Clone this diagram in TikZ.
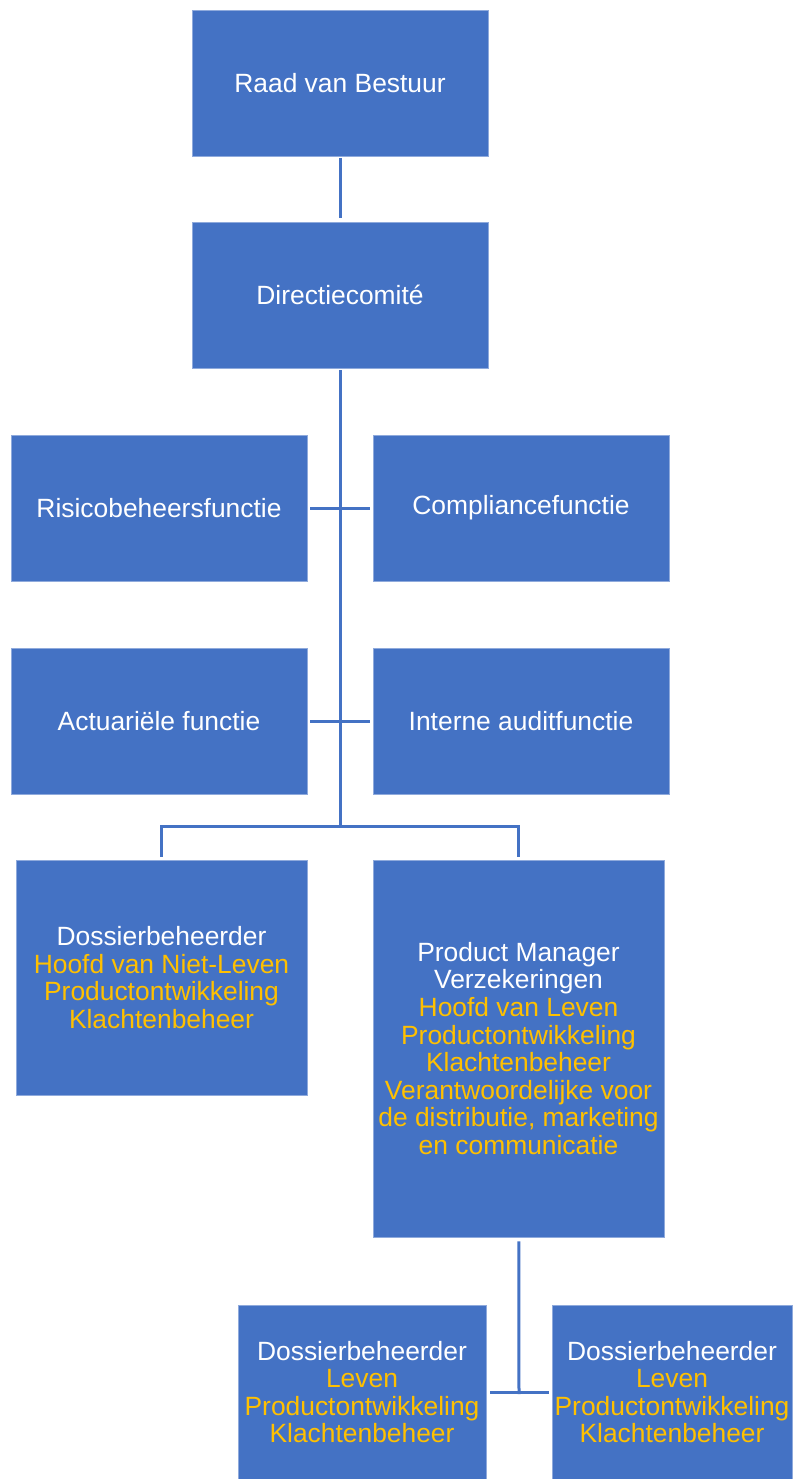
\documentclass[tikz,border=0pt]{standalone}
\usepackage{fontspec}
\setmainfont{Liberation Sans}
\usepackage{tikz}

\definecolor{boxblue}{HTML}{4472C4}
\definecolor{boxedge}{HTML}{8FAADC}
\definecolor{gold}{HTML}{FFC000}
\newcommand{\yl}[1]{\textcolor{gold}{#1}}

\begin{document}
\begin{tikzpicture}[x=1pt, y=-1pt, line width=3pt, draw=boxblue,
	block/.style ={rectangle, draw = boxedge, line width=0.6pt, fill=boxblue, text=white, align = center, inner sep=0pt, font=\fontsize{26.4}{27.6}\selectfont},
	link/.style ={draw=boxblue, line width=3pt}]
		\useasboundingbox (0,0) rectangle (792,1479);
		\node[block, minimum width=296, minimum height=146] (raad) at (340,83) {Raad van Bestuur};
		\node[block, minimum width=296, minimum height=146] (dir) at (340,295) {Directiecomit\'e};
		\node[block, minimum width=296, minimum height=146] (risk) at (159,508) {Risicobeheersfunctie};
		\node[block, minimum width=296, minimum height=146] (comp) at (521,508) {Compliancefunctie};
		\node[block, minimum width=296, minimum height=146] (act) at (159,721) {Actuari\"ele functie};
		\node[block, minimum width=296, minimum height=146] (audit) at (521,721) {Interne auditfunctie};
		\node[block, minimum width=291, minimum height=235] (dosnl) at (161.5,977.5) {Dossierbeheerder\\\yl{Hoofd van Niet-Leven}\\\yl{Productontwikkeling}\\\yl{Klachtenbeheer}};
		\node[block, minimum width=291, minimum height=377] (pm) at (518.5,1048.5) {Product Manager\\Verzekeringen\\\yl{Hoofd van Leven}\\\yl{Productontwikkeling}\\\yl{Klachtenbeheer}\\\yl{Verantwoordelijke voor}\\\yl{de distributie, marketing}\\\yl{en communicatie}};
		\node[block, minimum width=248, minimum height=174] (dosa) at (362,1392) {Dossierbeheerder\\\yl{Leven}\\\yl{Productontwikkeling}\\\yl{Klachtenbeheer}};
		\node[block, minimum width=240, minimum height=174] (dosb) at (672,1392) {Dossierbeheerder\\\yl{Leven}\\\yl{Productontwikkeling}\\\yl{Klachtenbeheer}};
		\coordinate (split) at (340,826);
		\coordinate (tee) at (519,1394);
		\draw[link, shorten <=2pt, shorten >=4pt] (raad) -- (dir);
		\draw[link, shorten <=2pt] (dir) -- (split);
		\draw[link, shorten <=3pt, shorten >=3pt] (risk) -- (comp);
		\draw[link, shorten <=3pt, shorten >=3pt] (act) -- (audit);
		\draw[link, shorten >=3pt] (split) -| (dosnl);
		\draw[link, shorten >=3pt] (split) -| (pm);
		\draw[link, shorten <=4pt] (pm) -- (tee);
		\draw[link, shorten <=4pt, shorten >=3pt] (dosa) -- (dosb);
	\end{tikzpicture}
\end{document}
